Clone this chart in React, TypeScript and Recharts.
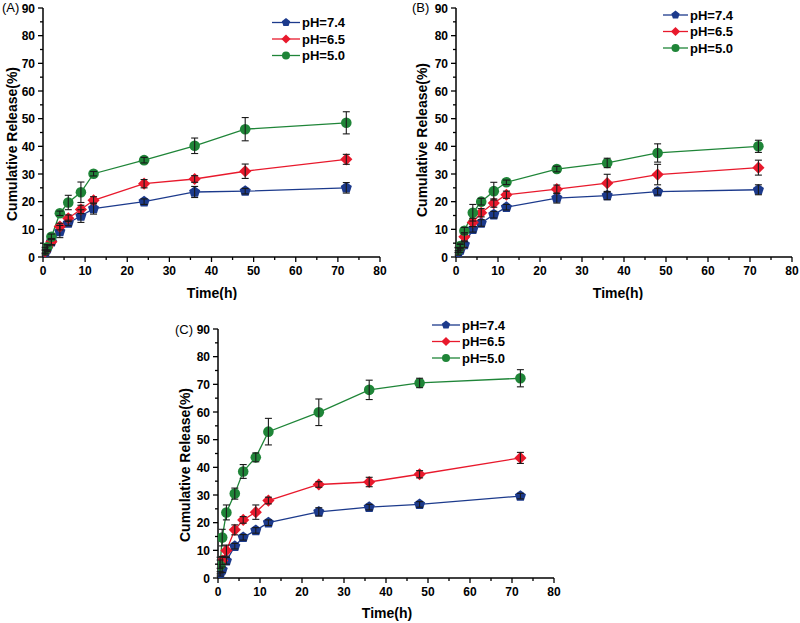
import { LineChart, Line, XAxis, YAxis, ErrorBar, Label } from 'recharts'

const times = [0.5, 1, 2, 4, 6, 9, 12, 24, 36, 48, 72]
const xTicks = [0, 5, 10, 15, 20, 25, 30, 35, 40, 45, 50, 55, 60, 65, 70, 75, 80]
const yTicks = [0, 5, 10, 15, 20, 25, 30, 35, 40, 45, 50, 55, 60, 65, 70, 75, 80, 85, 90]
const seriesNames = ['pH=7.4', 'pH=6.5', 'pH=5.0']

// panel A
const aBlue = [1.5, 3, 5.5, 9.2, 12.3, 14.8, 17.5, 20, 23.5, 23.8, 25]
const aBlueErr = [0.8, 1, 1.2, 2.2, 1, 2.3, 2, 1, 2, 1, 1.9]
const aRed = [2, 3.5, 5.5, 11, 14, 17.2, 20.5, 26.5, 28.2, 31, 35.3]
const aRedErr = [0.8, 1, 1, 1.2, 1.2, 1.5, 1.3, 1.5, 1.2, 2.6, 1.8]
const aGreen = [2.5, 3.5, 7.3, 15.8, 19.7, 23.4, 30.1, 35, 40.2, 46.2, 48.5]
const aGreenErr = [1, 1, 1, 0.8, 2.6, 3.7, 0.8, 1, 2.8, 4.2, 4]

// panel B
const bBlue = [1.5, 2.5, 4.5, 10, 12.3, 15.3, 18, 21.3, 22.2, 23.6, 24.3]
const bBlueErr = [0.8, 0.8, 1, 1, 1.2, 1.2, 1, 1.8, 1.5, 1.2, 1.8]
const bRed = [2.5, 3.5, 7.3, 12.5, 16, 19.5, 22.5, 24.5, 26.7, 29.8, 32.3]
const bRedErr = [0.8, 1, 1.5, 1.5, 1.5, 1.5, 1.3, 1.5, 3.2, 3.7, 2.7]
const bGreen = [2.5, 4, 9.5, 16, 20, 23.8, 27, 31.8, 34, 37.6, 40]
const bGreenErr = [1, 1, 1.2, 3, 1.2, 3.2, 0.8, 1, 1.7, 3.3, 2.2]

// panel C
const cBlue = [1.5, 3, 6.2, 11.5, 14.7, 17.2, 20, 23.9, 25.6, 26.6, 29.6]
const cBlueErr = [0.8, 1, 1.2, 1, 1, 1, 1, 1.5, 1, 1, 1]
const cRed = [5, 6.3, 9.9, 17.4, 21, 23.8, 28, 33.8, 34.7, 37.5, 43.4]
const cRedErr = [1.5, 1.5, 2, 1.8, 1.2, 2.6, 1.2, 1, 1.7, 1.3, 2]
const cGreen = [4.5, 14.6, 23.7, 30.5, 38.5, 43.6, 52.9, 59.9, 68, 70.5, 72.2]
const cGreenErr = [3, 3, 2.7, 2, 2.5, 1.6, 4.8, 4.8, 3.5, 1.7, 3.1]

const colors = ['#1c3a8c', '#e8192c', '#1f8538']
const shapes = ['pentagon', 'diamond', 'circle']
const FONT = '"Liberation Sans", Arial, sans-serif'

const rows = (vals: number[], errs: number[]) => times.map((t, i) => ({ t, v: vals[i], e: errs[i] }))

function Marker({ cx, cy, shape, color, r }: any) {
  if (cx == null || cy == null) return null
  if (shape === 'circle') return <circle cx={cx} cy={cy} r={r} fill={color} />
  if (shape === 'diamond') {
    const d = r * 1.15
    return <polygon points={`${cx},${cy - d} ${cx + d},${cy} ${cx},${cy + d} ${cx - d},${cy}`} fill={color} />
  }
  const pts = [0, 1, 2, 3, 4].map((k) => {
    const a = ((-90 + k * 72) * Math.PI) / 180
    return `${cx + r * 1.1 * Math.cos(a)},${cy + r * 1.1 * Math.sin(a)}`
  })
  return <polygon points={pts.join(' ')} fill={color} />
}

const XTick = ({ x, y, payload }: any) => {
  const major = payload.value % 10 === 0
  return (
    <g>
      <line x1={x} y1={y} x2={x} y2={y + (major ? 5 : 3)} stroke="#000" strokeWidth={1.3} />
      {major && (
        <text x={x} y={y + 18} textAnchor="middle" fontFamily={FONT} fontWeight="bold" fontSize={12} fill="#000">
          {payload.value}
        </text>
      )}
    </g>
  )
}

const YTick = ({ x, y, payload }: any) => {
  const major = payload.value % 10 === 0
  return (
    <g>
      <line x1={x} y1={y} x2={x - (major ? 5 : 3)} y2={y} stroke="#000" strokeWidth={1.3} />
      {major && (
        <text x={x - 8} y={y + 4.5} textAnchor="end" fontFamily={FONT} fontWeight="bold" fontSize={12} fill="#000">
          {payload.value}
        </text>
      )}
    </g>
  )
}

interface PanelProps {
  left: number
  top: number
  width: number
  height: number
  marginTop: number
  marginRight: number
  yWidth: number
  xHeight: number
  title: string
  titleX: number
  titleY: number
  yLabel: [number, number]
  xLabel: [number, number]
  legend: [number, number, number]
  series: Array<{ t: number; v: number; e: number }[]>
}

function Panel(p: PanelProps) {
  const [lx1, lx2, ly] = [p.legend[0], p.legend[1], p.legend[2]]
  return (
    <div style={{ position: 'absolute', left: p.left, top: p.top, width: p.width, height: p.height }}>
      <LineChart
        width={p.width}
        height={p.height}
        margin={{ top: p.marginTop, right: p.marginRight, bottom: 0, left: 0 }}
      >
        <XAxis
          dataKey="t"
          type="number"
          domain={[0, 80]}
          ticks={xTicks}
          interval={0}
          height={p.xHeight}
          tickSize={0}
          tickMargin={0}
          tick={<XTick />}
          axisLine={{ stroke: '#000', strokeWidth: 1.5 }}
          allowDataOverflow
        >
          <Label
            content={() => (
              <text x={p.xLabel[0]} y={p.xLabel[1]} textAnchor="middle" fontFamily={FONT} fontWeight="bold" fontSize={14} fill="#000">
                Time(h)
              </text>
            )}
          />
        </XAxis>
        <YAxis
          type="number"
          domain={[0, 90]}
          ticks={yTicks}
          interval={0}
          width={p.yWidth}
          tickSize={0}
          tickMargin={0}
          tick={<YTick />}
          axisLine={{ stroke: '#000', strokeWidth: 1.5 }}
          allowDataOverflow
        >
          <Label
            content={() => (
              <text
                x={p.yLabel[0]}
                y={p.yLabel[1]}
                textAnchor="middle"
                dominantBaseline="central"
                transform={`rotate(-90, ${p.yLabel[0]}, ${p.yLabel[1]})`}
                fontFamily={FONT}
                fontWeight="bold"
                fontSize={14}
                fill="#000"
              >
                Cumulative Release(%)
              </text>
            )}
          />
        </YAxis>
        {p.series.map((data, i) => (
          <Line
            key={seriesNames[i]}
            data={data}
            dataKey="v"
            name={seriesNames[i]}
            stroke={colors[i]}
            strokeWidth={1.3}
            isAnimationActive={false}
            dot={(d: any) => <Marker key={`m-${i}-${d.index}`} cx={d.cx} cy={d.cy} shape={shapes[i]} color={colors[i]} r={5.3} />}
            activeDot={false}
          />
        ))}
        {/* error bars drawn on top of the markers, like the original */}
        {p.series.map((data, i) => (
          <Line
            key={`err-${seriesNames[i]}`}
            data={data}
            dataKey="v"
            stroke="none"
            dot={false}
            activeDot={false}
            legendType="none"
            isAnimationActive={false}
            zIndex={900}
          >
            <ErrorBar
              dataKey="e"
              width={3.5}
              stroke="#1a1a1a"
              strokeWidth={1.1}
              direction="y"
              isAnimationActive={false}
              zIndex={1500}
            />
          </Line>
        ))}
      </LineChart>
      <svg
        width={p.width}
        height={p.height}
        style={{ position: 'absolute', left: 0, top: 0, pointerEvents: 'none' }}
      >
        <text x={p.titleX} y={p.titleY} fontFamily={FONT} fontSize={13} fill="#000">
          {p.title}
        </text>
        {seriesNames.map((n, i) => {
          const y = ly + i * 16.5
          return (
            <g key={n}>
              <line x1={lx1} y1={y} x2={lx2} y2={y} stroke={colors[i]} strokeWidth={1.3} />
              <Marker cx={(lx1 + lx2) / 2} cy={y} shape={shapes[i]} color={colors[i]} r={4} />
              <text x={lx2 + 2} y={y + 4.7} fontFamily={FONT} fontWeight="bold" fontSize={13} fill="#000">
                {n}
              </text>
            </g>
          )
        })}
      </svg>
    </div>
  )
}

export default function App() {
  return (
    <div style={{ position: 'absolute', left: 0, top: 0, width: 800, height: 623, background: '#fff' }}>
      <Panel
        left={0}
        top={0}
        width={400}
        height={300}
        marginTop={8}
        marginRight={20}
        yWidth={43}
        xHeight={43}
        title="(A)"
        titleX={2}
        titleY={12}
        yLabel={[12, 144]}
        xLabel={[212, 298]}
        legend={[272, 300, 22.5]}
        series={[rows(aBlue, aBlueErr), rows(aRed, aRedErr), rows(aGreen, aGreenErr)]}
      />
      <Panel
        left={400}
        top={0}
        width={400}
        height={300}
        marginTop={8}
        marginRight={8}
        yWidth={56}
        xHeight={43}
        title="(B)"
        titleX={12}
        titleY={12}
        yLabel={[22, 140]}
        xLabel={[218, 298]}
        legend={[263, 288, 15]}
        series={[rows(bBlue, bBlueErr), rows(bRed, bRedErr), rows(bGreen, bGreenErr)]}
      />
      <Panel
        left={170}
        top={300}
        width={400}
        height={323}
        marginTop={29}
        marginRight={16}
        yWidth={48}
        xHeight={45}
        title="(C)"
        titleX={5}
        titleY={34}
        yLabel={[15, 165]}
        xLabel={[217, 318]}
        legend={[262, 290, 25]}
        series={[rows(cBlue, cBlueErr), rows(cRed, cRedErr), rows(cGreen, cGreenErr)]}
      />
    </div>
  )
}
